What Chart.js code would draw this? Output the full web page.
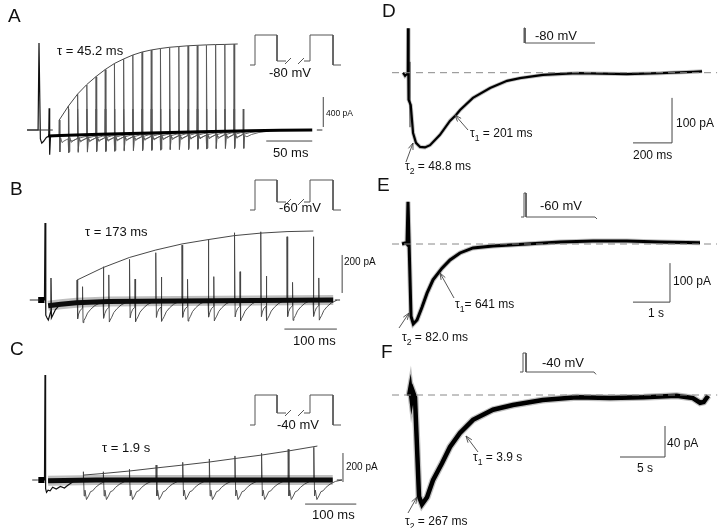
<!DOCTYPE html>
<html>
<head>
<meta charset="utf-8">
<script src="https://cdn.jsdelivr.net/npm/chart.js@4.4.1/dist/chart.umd.min.js"></script>
<style>
html, body { margin: 0; background: #fff; }
#wrap { position: relative; width: 720px; height: 528px; }
#wrap canvas { position: absolute; left: 0; top: 0; }
</style>
</head>
<body>
<div id="wrap">
    <canvas id="pa" width="720" height="528"></canvas>
    <canvas id="pb" width="720" height="528"></canvas>
    <canvas id="pc" width="720" height="528"></canvas>
    <canvas id="pd" width="720" height="528"></canvas>
    <canvas id="pe" width="720" height="528"></canvas>
    <canvas id="pf" width="720" height="528"></canvas>
</div>
<script>
const W = 720, H = 528;
const FONT = "'Liberation Sans', Arial, sans-serif";

// ── Panel A (ms, pA) ──
const aCondT = [-13, -1, 0, 1.5, 3, 5, 8, 10, 10.6, 11, 11.6, 12.5, 15, 20];
const aCondI = [0, 0, 1160, -120, -175, -150, -100, -85, -80, 290, -330, -90, -78, -76];
const aTestT = [22, 32, 42, 52, 62, 72, 82, 92, 102, 112, 122, 132, 142, 152, 162, 172, 182, 192, 202, 212];
const aTestPeak = [133, 320, 480, 600, 710, 805, 885, 945, 1000, 1040, 1065, 1085, 1100, 1110, 1120, 1125, 1130, 1135, 1140, 1145];
const aTestBase = [-73, -69, -65, -61, -58, -54, -51, -48, -45, -42, -39, -36, -33, -30, -27, -24, -22, -19, -17, -15];
const aFollowPeak = 280;
const aFitT = [22, 32, 42, 52, 62, 72, 82, 92, 102, 112, 122, 132, 142, 152, 162, 172, 182, 192, 202, 216];
const aFitI = [133, 320, 480, 607, 713, 807, 887, 947, 1000, 1040, 1067, 1087, 1103, 1113, 1123, 1129, 1135, 1139, 1141, 1147];
const aBandT = [10, 23, 66, 121, 175, 229, 262, 297];
const aBandI = [-80, -73, -57, -40, -24, -11, -4, 0];
const aResp1T = [0.7, 1.5, 3, 5, 8, 9.6];
const aResp1I = [-220, -30, -95, -75, -55, -45];
const aFollowT = 10;
const aResp2T = [10.6, 11.5, 14, 19, 27, 38];
const aResp2I = [-230, -60, -75, -45, -18, 0];

// ── Panel B (ms, pA) ──
const bCondT = [-13, -1, 0, 1.5, 4, 6.3, 9, 11, 11.4, 12.2, 15, 20, 28];
const bCondI = [0, 0, 405, -80, -95, -105, -80, -60, 116, -95, -79, -50, -26];
const bTestT = [61, 111, 161, 211, 261, 311, 361, 411, 461, 511];
const bTestPeak = [105, 175, 214, 249, 289, 319, 354, 359, 333, 333];
const bFollowPeak = [70, 132, 110, 121, 109, 123, 149, 126, 93, 116];
const bTestBase = [-14, -11, -9, -7, -6, -5, -4, -3, -2, -1];
const bFitI = [105, 171, 224, 263, 295, 318, 339, 352, 360, 363];
const bBandT = [6, 30, 60, 120, 250, 400, 549];
const bBandI = [-30, -22, -14, -8, -5, -3, 0];
const bResp1T = [1.2, 3, 6, 10];
const bResp1I = [-85, -60, -40, -30];
const bFollowT = 10.5;
const bResp2T = [11.5, 13, 16, 20, 26, 34, 45];
const bResp2I = [-105, -95, -80, -55, -35, -15, 0];

// ── Panel C (ms, pA) ──
const cCondT = [-13, -1, 0, 1.2, 3, 6, 10, 15, 22, 30, 38, 44, 56];
const cCondI = [0, 0, 724, -60, -85, -70, -75, -50, -62, -45, -55, -38, -8];
const cTestT = [75, 114, 165, 217, 269, 321, 371, 423, 475, 525];
const cTestPeak = [57, 57, 74, 103, 122, 145, 166, 184, 212, 226];
const cFitT = [75, 114, 165, 217, 269, 321, 371, 423, 475, 532];
const cFitI = [34, 45, 62, 83, 103, 124, 148, 172, 200, 234];
const cBandT = [6, 100, 562];
const cBandI = [-5, 0, 0];
const cResp1T = [1.5, 3, 6, 10, 14, 18, 24, 32, 42, 55];
const cResp1I = [-110, -70, -135, -110, -80, -75, -50, -28, -10, 0];

// ── Voltage protocols (schematic ms, mV) ──
const protoT1 = [0, 5, 5, 27, 27, 36];
const protoT2 = [54, 60, 60, 83, 83, 91];
const slashT1 = [35, 41];
const slashT2 = [48, 54];
const holdMV = -100, stepMV = 50;
const interMV = { A: -80, B: -60, C: -40 };
const dProtoT = [0, 0, 1, 1, 71], dProtoV = [-80, 0, 0, -80, -80];
const eProtoT = [-3, 0, 0, 2, 2, 71, 73], eProtoV = [-60, -60, 0, 0, -60, -60, -65];
const fProtoT = [-3, 0, 0, 3, 3, 71, 73], fProtoV = [-40, -40, 0, 0, -40, -40, -45];

// ── Panel D (ms, pA) ──
const dTraceT = [-25, -15, -5, -1, 0, 3, 14, 26, 41, 62, 87, 113, 164, 215, 246, 267, 333, 421, 508, 574, 692, 867, 1123, 1292, 1462, 1508];
const dTraceI = [0, -7, -3, -4, 99, -60, -72, -134, -156, -165, -166, -161, -138, -107, -94, -83, -56, -34, -18, -12, -5, -1, -3, -1, 2, 3];
const dGreyT = [10, 10], dGreyI = [24, -121];

// ── Panel E (ms, pA) ──
const eTraceT = [-162, -54, -27, 0, 81, 143, 243, 378, 514, 676, 919, 1135, 1405, 1757, 2297, 3216, 4108, 5000, 5919, 6811, 7892];
const eTraceI = [0, 3, 0, 108, -185, -205, -195, -162, -126, -92, -62, -41, -23, -10, -5, 0, 5, 8, 8, 5, 3];

// ── Panel F (s, pA) ──
const fTraceT = [-0.44, -0.3, -0.15, 0, 0.22, 0.67, 1.0, 1.56, 2.22, 3.22, 4.11, 5.22, 6.67, 8.89, 11.1, 14.4, 18.2, 21.9, 25.6, 29.3, 31.1, 31.9, 32.3, 32.8];
const fTraceI = [-1, 8, -6, 4, -3, -131, -141, -132, -110, -88, -67, -49, -32, -19, -13, -6.5, -3, -4, -3, -1, -4, -10, -9, -1];

// ── helpers ──

function frame(x0, y0, kx, ky) {
    return { xmin: -x0 / kx, xmax: (W - x0) / kx, ymin: -(H - y0) / ky, ymax: y0 / ky };
}

function pts(xs, ys) {
    return xs.map((x, i) => ({ x, y: ys[i] }));
}

function line(data, color, width, extra) {
    return Object.assign({
        data, borderColor: color, borderWidth: width,
        pointRadius: 0, fill: false, tension: 0
    }, extra || {});
}

function proto(data) {
    return line(data, '#555', 1, { xAxisID: 'px', yAxisID: 'py' });
}

function sweep(t0, base, peak, r1T, r1I, fT, fPeak, r2T, r2I) {
    const p = [{ x: t0 - 0.4, y: base }, { x: t0, y: peak }];
    r1T.forEach((d, i) => p.push({ x: t0 + d, y: base + r1I[i] }));
    if (fT != null) {
        p.push({ x: t0 + fT, y: fPeak });
        r2T.forEach((d, i) => p.push({ x: t0 + d, y: base + r2I[i] }));
    }
    return p;
}

function leftProto(inter) {
    const v1 = [holdMV, holdMV, stepMV, stepMV, inter, inter];
    const v2 = [inter, inter, stepMV, stepMV, holdMV, holdMV];
    return [
        proto(pts(protoT1, v1)),
        proto(pts(protoT2, v2)),
        proto(pts(slashT1, [inter - 15, inter + 15])),
        proto(pts(slashT2, [inter - 15, inter + 15]))
    ];
}

function drawText(ctx, t) {
    const size = t.size || 13;
    let x = t.x;
    ctx.fillStyle = '#111';
    ctx.textBaseline = 'alphabetic';
    t.s.split('_').forEach((part, i) => {
        let s = part;
        if (i > 0) {
            const sub = s[0];
            s = s.slice(1);
            ctx.font = (size * 0.72) + 'px ' + FONT;
            ctx.fillText(sub, x, t.y + size * 0.3);
            x += ctx.measureText(sub).width;
        }
        ctx.font = size + 'px ' + FONT;
        ctx.fillText(s, x, t.y);
        x += ctx.measureText(s).width;
    });
}

function drawArrow(ctx, a) {
    const [x1, y1, x2, y2] = a;
    const ang = Math.atan2(y2 - y1, x2 - x1);
    ctx.strokeStyle = '#444';
    ctx.lineWidth = 0.9;
    ctx.beginPath();
    ctx.moveTo(x1, y1);
    ctx.lineTo(x2, y2);
    ctx.moveTo(x2 - 7 * Math.cos(ang - 0.35), y2 - 7 * Math.sin(ang - 0.35));
    ctx.lineTo(x2, y2);
    ctx.lineTo(x2 - 7 * Math.cos(ang + 0.35), y2 - 7 * Math.sin(ang + 0.35));
    ctx.stroke();
}

Chart.register({
    id: 'notes',
    afterDatasetsDraw(chart, args, opts) {
        const ctx = chart.ctx;
        ctx.save();
        (opts.arrows || []).forEach(a => drawArrow(ctx, a));
        (opts.texts || []).forEach(t => drawText(ctx, t));
        ctx.restore();
    }
});

function makePanel(id, fr, pfr, datasets, notes) {
    new Chart(document.getElementById(id), {
        type: 'line',
        data: { datasets },
        options: {
            responsive: false,
            animation: false,
            events: [],
            layout: { padding: 0 },
            plugins: { legend: { display: false }, tooltip: { enabled: false }, notes },
            scales: {
                x: { type: 'linear', display: false, min: fr.xmin, max: fr.xmax },
                y: { type: 'linear', display: false, min: fr.ymin, max: fr.ymax },
                px: { type: 'linear', axis: 'x', display: false, min: pfr.xmin, max: pfr.xmax },
                py: { type: 'linear', axis: 'y', display: false, min: pfr.ymin, max: pfr.ymax }
            }
        }
    });
}

// ── A ──
{
    const ds = [];
    ds.push(line(pts([-13, 15], [0, 0]), '#333', 1));
    ds.push(line(pts([302, 308], [0, 0]), '#333', 1));
    ds.push(line(pts(aBandT, aBandI), '#000', 3));
    aTestT.forEach((t, i) => {
        ds.push(line(sweep(t, aTestBase[i], aTestPeak[i], aResp1T, aResp1I, aFollowT, aFollowPeak, aResp2T, aResp2I), '#555', 0.9));
    });
    ds.push(line(pts(aCondT, aCondI), '#111', 1.2));
    ds.push(line(pts(aFitT, aFitI), '#333', 0.9));
    ds.push(line(pts([309, 309], [40, 440]), '#444', 1));
    ds.push(line(pts([247, 297], [-147, -147]), '#444', 1));
    ds.push(...leftProto(interMV.A));
    makePanel('pa', frame(39, 130, 0.92, 0.075), frame(250, 45, 1, 0.2), ds, {
        texts: [
            { x: 8, y: 22, s: 'A', size: 19 },
            { x: 57, y: 55, s: 'τ = 45.2 ms' },
            { x: 269, y: 77, s: '-80 mV' },
            { x: 326, y: 116, s: '400 pA', size: 8.5 },
            { x: 273, y: 157, s: '50 ms' }
        ]
    });
}

// ── B ──
{
    const ds = [];
    ds.push(line(pts([-29, -10], [0, 0]), '#333', 1));
    ds.push(line(pts([552, 562], [0, 0]), '#333', 1));
    ds.push(line(pts([-13, -1], [0, 0]), '#000', 6));
    ds.push(line(pts(bBandT, bBandI), 'rgba(0,0,0,0.25)', 10));
    ds.push(line(pts(bBandT, bBandI), '#111', 5));
    bTestT.forEach((t, i) => {
        ds.push(line(sweep(t, bTestBase[i], bTestPeak[i], bResp1T, bResp1I, bFollowT, bFollowPeak[i], bResp2T, bResp2I), '#444', 0.9));
    });
    ds.push(line(pts(bCondT, bCondI), '#111', 1.2));
    ds.push(line(pts(bTestT, bFitI), '#333', 0.9));
    ds.push(line(pts([566, 566], [37, 237]), '#444', 1));
    ds.push(line(pts([456, 556], [-153, -153]), '#444', 1));
    ds.push(...leftProto(interMV.B));
    makePanel('pb', frame(45, 300, 0.525, 0.19), frame(250, 190, 1, 0.2), ds, {
        texts: [
            { x: 10, y: 195, s: 'B', size: 19 },
            { x: 85, y: 236, s: 'τ = 173 ms' },
            { x: 279, y: 212, s: '-60 mV' },
            { x: 344, y: 265, s: '200 pA', size: 10 },
            { x: 293, y: 345, s: '100 ms' }
        ]
    });
}

// ── C ──
{
    const ds = [];
    ds.push(line(pts([-25, -14], [0, 0]), '#333', 1));
    ds.push(line(pts([570, 580], [0, 0]), '#333', 1));
    ds.push(line(pts([-13, -1], [0, 0]), '#000', 6));
    ds.push(line(pts(cBandT, cBandI), 'rgba(0,0,0,0.25)', 10));
    ds.push(line(pts(cBandT, cBandI), '#111', 5));
    cTestT.forEach((t, i) => {
        ds.push(line(sweep(t, 0, cTestPeak[i], cResp1T, cResp1I, null), '#444', 0.9));
    });
    ds.push(line(pts(cCondT, cCondI), '#111', 1.2));
    ds.push(line(pts(cFitT, cFitI), '#333', 0.9));
    ds.push(line(pts([582, 582], [-14, 186]), '#444', 1));
    ds.push(line(pts([508, 608], [-166, -166]), '#444', 1));
    ds.push(...leftProto(interMV.C));
    makePanel('pc', frame(45, 480, 0.512, 0.145), frame(250, 405, 1, 0.2), ds, {
        texts: [
            { x: 10, y: 355, s: 'C', size: 19 },
            { x: 102, y: 452, s: 'τ = 1.9 s' },
            { x: 277, y: 429, s: '-40 mV' },
            { x: 346, y: 470, s: '200 pA', size: 10 },
            { x: 312, y: 519, s: '100 ms' }
        ]
    });
}

// ── D ──
{
    const ds = [];
    ds.push(line(pts([-82, 1585], [0, 0]), '#888', 1, { borderDash: [7, 5] }));
    ds.push(line(pts(dTraceT, dTraceI), 'rgba(0,0,0,0.25)', 4));
    ds.push(line(pts(dTraceT, dTraceI), '#000', 2.2));
    ds.push(line(pts(dGreyT, dGreyI), '#888', 1));
    ds.push(line(pts([1154, 1354, 1354], [-156, -156, -56]), '#444', 1));
    ds.push(proto(pts(dProtoT, dProtoV)));
    makePanel('pd', frame(408, 72.7, 0.195, 0.45), frame(524, 28, 1, 0.1875), ds, {
        arrows: [[468, 130, 455, 115], [406, 162, 413, 143]],
        texts: [
            { x: 382, y: 17, s: 'D', size: 19 },
            { x: 535, y: 40, s: '-80 mV' },
            { x: 470, y: 137, s: 'τ_1 = 201 ms', size: 12 },
            { x: 405, y: 170, s: 'τ_2 = 48.8 ms', size: 12 },
            { x: 676, y: 127, s: '100 pA', size: 12 },
            { x: 633, y: 159, s: '200 ms', size: 12 }
        ]
    });
}

// ── E ──
{
    const ds = [];
    ds.push(line(pts([-432, 8351], [0, 0]), '#888', 1, { borderDash: [7, 5] }));
    ds.push(line(pts(eTraceT, eTraceI), 'rgba(0,0,0,0.25)', 5));
    ds.push(line(pts(eTraceT, eTraceI), '#000', 3));
    ds.push(line(pts([6081, 7081, 7081], [-149, -149, -49]), '#444', 1));
    ds.push(proto(pts(eProtoT, eProtoV)));
    makePanel('pe', frame(408, 244, 0.037, 0.39), frame(524, 193, 1, 0.4), ds, {
        arrows: [[454, 298, 440, 273], [399, 328, 409, 313]],
        texts: [
            { x: 377, y: 191, s: 'E', size: 19 },
            { x: 540, y: 210, s: '-60 mV' },
            { x: 455, y: 308, s: 'τ_1= 641 ms', size: 12 },
            { x: 402, y: 341, s: 'τ_2 = 82.0 ms', size: 12 },
            { x: 673, y: 285, s: '100 pA', size: 12 },
            { x: 648, y: 317, s: '1 s', size: 12 }
        ]
    });
}

// ── F ──
{
    const ds = [];
    ds.push(line(pts([-2.33, 33.8], [0, 0]), '#888', 1, { borderDash: [7, 5] }));
    ds.push(line(pts(fTraceT, fTraceI), 'rgba(0,0,0,0.25)', 7));
    ds.push(line(pts(fTraceT, fTraceI), '#000', 4.5));
    ds.push(line(pts([23, 28, 28], [-80, -80, -40]), '#444', 1));
    ds.push(proto(pts(fProtoT, fProtoV)));
    makePanel('pf', frame(413, 395, 9, 0.775), frame(523, 353, 1, 0.475), ds, {
        arrows: [[478, 452, 466, 436], [408, 513, 417, 497]],
        texts: [
            { x: 381, y: 358, s: 'F', size: 19 },
            { x: 542, y: 367, s: '-40 mV' },
            { x: 473, y: 461, s: 'τ_1 = 3.9 s', size: 12 },
            { x: 405, y: 525, s: 'τ_2 = 267 ms', size: 12 },
            { x: 667, y: 447, s: '40 pA', size: 12 },
            { x: 637, y: 472, s: '5 s', size: 12 }
        ]
    });
}
</script>
</body>
</html>
